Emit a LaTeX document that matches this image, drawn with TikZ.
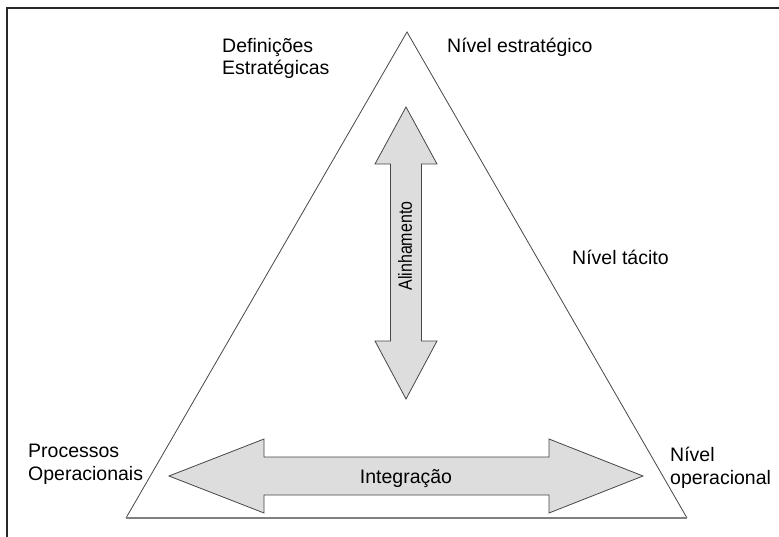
\documentclass[tikz,border=0pt]{standalone}
\usepackage{fontspec}
\usepackage{graphicx}
\setmainfont{Liberation Sans}
\definecolor{framegray}{RGB}{40,40,40}
\definecolor{edgegray}{RGB}{70,70,70}
\definecolor{arrowfill}{RGB}{221,221,221}
\begin{document}
\begin{tikzpicture}[x=1pt,y=-1pt,
  lbl/.style={inner sep=0pt,font=\fontsize{19.5}{22.5}\selectfont,align=left},
  bigarrow/.style={draw=edgegray,fill=arrowfill,line width=0.8pt,line join=miter}]
\useasboundingbox (0,0) rectangle (779,537);
% open frame: left and top sides only
\draw[framegray,line width=1.3pt] (7,537) -- (7,8) -- (779,8);
% triangle of levels
\coordinate (apex) at (407,32);
\coordinate (bl) at (126,518);
\coordinate (br) at (687,518);
\draw[edgegray,line width=0.8pt] (bl) -- (apex) -- (br);
\draw[gray,line width=1.2pt] (bl) -- (br);
% vertical double arrow
\draw[bigarrow] (406,107) -- (437,164) -- (421.5,164) -- (421.5,341) -- (437,341)
  -- (406,399) -- (375,341) -- (390.5,341) -- (390.5,164) -- (375,164) -- cycle;
% horizontal double arrow
\draw[bigarrow] (169,476) -- (264,439) -- (264,457) -- (549,457) -- (549,439)
  -- (643,476) -- (549,513) -- (549,495) -- (264,495) -- (264,513) -- cycle;
% labels (multi-line nodes are placed by the baseline of their last line)
\node[lbl,anchor=base west] (def) at (222,75) {Definições\\Estratégicas};
\node[lbl,anchor=base west] (nest) at (447,53) {Nível estratégico};
\node[lbl,anchor=base west] (ntac) at (572,265) {Nível tácito};
\node[lbl,anchor=base west] (proc) at (28,480) {Processos\\Operacionais};
\node[lbl,anchor=base west] (nop) at (670,484) {Nível\\operacional};
\node[lbl,font=\fontsize{19}{22}\selectfont,rotate=90] (alin) at (405,246) {\scalebox{0.84}[1]{Alinhamento}};
\node[lbl,anchor=base] (integ) at (406,483) {Integração};
\end{tikzpicture}
\end{document}
